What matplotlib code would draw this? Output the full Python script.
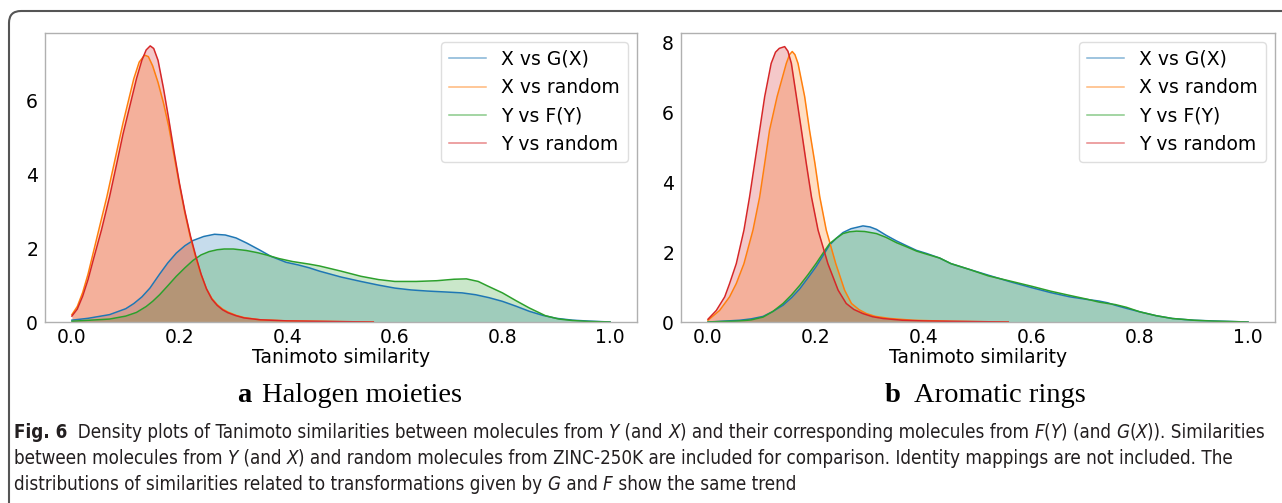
import re

import matplotlib
matplotlib.use("Agg")
import matplotlib.pyplot as plt
from matplotlib import font_manager
from matplotlib.font_manager import FontProperties
from matplotlib.patches import FancyBboxPatch
from matplotlib.transforms import IdentityTransform

W, H = 1282, 503

labels = ["X vs G(X)", "X vs random", "Y vs F(Y)", "Y vs random"]
colors = ["#1f77b4", "#ff7f0e", "#2ca02c", "#d62728"]

# ---- panel a: halogen moieties ----
a_xg_x = [0.0, 0.03, 0.07, 0.1, 0.115, 0.13, 0.145, 0.163, 0.178, 0.194, 0.21, 0.225, 0.245,
          0.265, 0.285, 0.305, 0.325, 0.348, 0.37, 0.398, 0.42, 0.441, 0.46, 0.5, 0.537, 0.57,
          0.6, 0.63, 0.66, 0.7, 0.725, 0.75, 0.775, 0.8, 0.825, 0.85, 0.875, 0.9, 0.93, 0.96, 1.0]
a_xg_y = [0.05, 0.1, 0.2, 0.36, 0.5, 0.68, 0.92, 1.3, 1.6, 1.87, 2.07, 2.21, 2.32,
          2.38, 2.36, 2.28, 2.14, 1.96, 1.78, 1.62, 1.55, 1.47, 1.38, 1.22, 1.1, 1.0,
          0.92, 0.87, 0.84, 0.81, 0.79, 0.74, 0.66, 0.56, 0.43, 0.29, 0.18, 0.1, 0.05, 0.025, 0.0]

a_xr_x = [0.0, 0.01, 0.02, 0.03, 0.04, 0.05, 0.065, 0.08, 0.095, 0.105, 0.115, 0.125, 0.135,
          0.142, 0.15, 0.16, 0.17, 0.18, 0.19, 0.2, 0.21, 0.22, 0.23, 0.24, 0.25, 0.26, 0.27,
          0.28, 0.29, 0.305, 0.32, 0.35, 0.4, 0.45, 0.5, 0.56]
a_xr_y = [0.2, 0.42, 0.8, 1.3, 1.9, 2.5, 3.4, 4.4, 5.4, 6.0, 6.6, 7.05, 7.24,
          7.2, 6.95, 6.5, 5.95, 5.3, 4.5, 3.7, 2.95, 2.3, 1.75, 1.28, 0.9, 0.64, 0.47,
          0.35, 0.27, 0.18, 0.12, 0.06, 0.03, 0.02, 0.01, 0.0]

a_yf_x = [0.0, 0.07, 0.1, 0.12, 0.138, 0.15, 0.163, 0.178, 0.194, 0.21, 0.225, 0.24, 0.255,
          0.27, 0.283, 0.3, 0.324, 0.345, 0.361, 0.385, 0.41, 0.441, 0.46, 0.5, 0.537, 0.57,
          0.6, 0.64, 0.678, 0.71, 0.733, 0.755, 0.772, 0.8, 0.825, 0.85, 0.88, 0.905, 0.93,
          0.96, 1.0]
a_yf_y = [0.02, 0.08, 0.16, 0.26, 0.42, 0.56, 0.74, 0.98, 1.24, 1.47, 1.67, 1.82, 1.91,
          1.96, 1.98, 1.98, 1.94, 1.88, 1.82, 1.72, 1.64, 1.57, 1.52, 1.38, 1.24, 1.15,
          1.1, 1.1, 1.12, 1.16, 1.17, 1.1, 0.98, 0.79, 0.58, 0.38, 0.17, 0.08, 0.04,
          0.015, 0.0]

a_yr_x = [0.0, 0.01, 0.02, 0.03, 0.04, 0.055, 0.07, 0.0835, 0.095, 0.11, 0.12, 0.13, 0.138,
          0.1455, 0.152, 0.16, 0.17, 0.18, 0.19, 0.2, 0.21, 0.22, 0.23, 0.24, 0.25, 0.26,
          0.27, 0.28, 0.29, 0.305, 0.32, 0.35, 0.4, 0.45, 0.5, 0.56]
a_yr_y = [0.16, 0.35, 0.7, 1.15, 1.7, 2.5, 3.4, 4.31, 5.1, 6.0, 6.6, 7.1, 7.38,
          7.49, 7.42, 7.1, 6.35, 5.5, 4.6, 3.75, 3.0, 2.35, 1.8, 1.3, 0.9, 0.62,
          0.45, 0.33, 0.25, 0.17, 0.11, 0.06, 0.03, 0.02, 0.01, 0.0]

# ---- panel b: aromatic rings ----
b_xg_x = [0.0, 0.0586, 0.08, 0.102, 0.12, 0.139, 0.155, 0.17, 0.185, 0.2, 0.213, 0.225, 0.238,
          0.25, 0.265, 0.287, 0.3, 0.312, 0.33, 0.349, 0.368, 0.386, 0.405, 0.429, 0.45, 0.485,
          0.519, 0.56, 0.6, 0.635, 0.67, 0.7, 0.724, 0.74, 0.754, 0.775, 0.8, 0.83, 0.86, 0.9,
          0.936, 1.0]
b_xg_y = [0.0, 0.05, 0.09, 0.16, 0.3, 0.48, 0.7, 0.95, 1.26, 1.58, 1.9, 2.2, 2.4,
          2.56, 2.67, 2.75, 2.72, 2.65, 2.48, 2.32, 2.18, 2.05, 1.96, 1.83, 1.67, 1.5,
          1.34, 1.15, 0.98, 0.84, 0.72, 0.65, 0.6, 0.55, 0.48, 0.39, 0.29, 0.18, 0.1, 0.05,
          0.03, 0.0]

b_xr_x = [0.0, 0.0215, 0.04, 0.0524, 0.0666, 0.0833, 0.0957, 0.105, 0.114, 0.128, 0.145, 0.151,
          0.156, 0.161, 0.1667, 0.179, 0.188, 0.198, 0.207, 0.219, 0.2366, 0.253, 0.2657, 0.28,
          0.2935, 0.31, 0.337, 0.38, 0.45, 0.5, 0.556]
b_xr_y = [0.05, 0.33, 0.72, 1.1, 1.67, 2.63, 3.58, 4.54, 5.49, 6.45, 7.4, 7.65,
          7.74, 7.65, 7.4, 6.45, 5.49, 4.54, 3.58, 2.63, 1.67, 0.91, 0.53, 0.35,
          0.24, 0.16, 0.1, 0.05, 0.02, 0.01, 0.0]

b_yf_x = [0.0, 0.0586, 0.08, 0.102, 0.12, 0.139, 0.155, 0.17, 0.185, 0.2, 0.213, 0.225, 0.238,
          0.25, 0.262, 0.275, 0.29, 0.312, 0.33, 0.349, 0.368, 0.386, 0.405, 0.429, 0.45, 0.485,
          0.519, 0.56, 0.6, 0.635, 0.67, 0.7, 0.724, 0.74, 0.754, 0.775, 0.8, 0.83, 0.86, 0.9,
          0.936, 1.0]
b_yf_y = [0.0, 0.03, 0.06, 0.14, 0.3, 0.53, 0.78, 1.05, 1.35, 1.67, 1.97, 2.24, 2.4,
          2.53, 2.58, 2.6, 2.59, 2.53, 2.42, 2.27, 2.15, 2.03, 1.94, 1.83, 1.67, 1.5,
          1.32, 1.17, 1.02, 0.88, 0.76, 0.66, 0.57, 0.53, 0.5, 0.42, 0.29, 0.18, 0.1, 0.05,
          0.025, 0.0]

b_yr_x = [0.0, 0.0154, 0.031, 0.04, 0.0524, 0.0666, 0.077, 0.0864, 0.0957, 0.105, 0.117, 0.125,
          0.132, 0.142, 0.148, 0.1544, 0.1637, 0.173, 0.182, 0.1916, 0.2038, 0.222, 0.241, 0.256,
          0.27, 0.287, 0.305, 0.324, 0.36, 0.4, 0.45, 0.5, 0.556]
b_yr_y = [0.08, 0.33, 0.72, 1.1, 1.67, 2.63, 3.58, 4.54, 5.49, 6.45, 7.4, 7.72,
          7.83, 7.88, 7.75, 7.4, 6.45, 5.49, 4.54, 3.58, 2.63, 1.67, 0.91, 0.53,
          0.36, 0.24, 0.15, 0.1, 0.05, 0.03, 0.02, 0.01, 0.0]

panel_a = [(a_xg_x, a_xg_y), (a_xr_x, a_xr_y), (a_yf_x, a_yf_y), (a_yr_x, a_yr_y)]
panel_b = [(b_xg_x, b_xg_y), (b_xr_x, b_xr_y), (b_yf_x, b_yf_y), (b_yr_x, b_yr_y)]

a_yticks = [0, 2, 4, 6]
b_yticks = [0, 2, 4, 6, 8]
xticks = [0.0, 0.2, 0.4, 0.6, 0.8, 1.0]

# *x* = italic, **x** = bold
caption_lines = [
    "**Fig. 6**  Density plots of Tanimoto similarities between molecules from *Y* (and *X*) "
    "and their corresponding molecules from *F*(*Y*) (and *G*(*X*)). Similarities",
    "between molecules from *Y* (and *X*) and random molecules from ZINC-250K are included for "
    "comparison. Identity mappings are not included. The",
    "distributions of similarities related to transformations given by *G* and *F* show the same trend",
]

plt.rcParams["font.family"] = "DejaVu Sans"


def wnum(w):
    return w if isinstance(w, int) else font_manager.weight_dict.get(w, 400)


# pick a narrow sans with a regular (non-bold) face for the caption
entries = font_manager.fontManager.ttflist
cap_family, cap_stretch, cap_weight = "Open Sans", "normal", "normal"
narrow = [f for f in entries if f.name == "Liberation Sans Narrow"]
dv_cond = [f for f in entries if f.name == "DejaVu Sans" and "Condensed" in f.fname
           and wnum(f.weight) < 500]
osc_light = [f for f in entries if f.name == "Open Sans Condensed" and wnum(f.weight) < 500]
if narrow:
    cap_family = "Liberation Sans Narrow"
elif dv_cond:
    cap_family, cap_stretch = "DejaVu Sans", dv_cond[0].stretch
elif osc_light:
    cap_family, cap_weight = "Open Sans Condensed", wnum(osc_light[0].weight)

fig = plt.figure(figsize=(W / 100, H / 100), dpi=100)


def px_axes(left, top, right, bottom):
    return fig.add_axes([left / W, 1 - bottom / H, (right - left) / W, (bottom - top) / H])


def draw_panel(ax, curves, ymax, yticks):
    for (x, y), lab, col in zip(curves, labels, colors):
        ax.plot(x, y, color=col, lw=1.1, label=lab)
        ax.fill_between(x, 0, y, color=col, alpha=0.25, lw=0)
    ax.set_xlim(-0.05, 1.05)
    ax.set_ylim(0, ymax)
    ax.set_xticks(xticks)
    ax.set_xticklabels([f"{t:.1f}" for t in xticks])
    ax.set_yticks(yticks)
    ax.tick_params(labelsize=13.5, length=0, pad=4)
    ax.tick_params(axis="y", pad=5)
    for sp in ax.spines.values():
        sp.set_color("#b0b0b0")
        sp.set_linewidth(1.0)
    ax.set_xlabel("Tanimoto similarity", fontsize=13.5, labelpad=1)
    leg = ax.legend(loc="upper right", fontsize=13.5, labelspacing=0.5,
                    handlelength=2.0, borderpad=0.4, edgecolor="#d6d6d6")
    for h in leg.get_lines():
        h.set_alpha(0.55)


ax_a = px_axes(45, 33, 637, 322)
draw_panel(ax_a, panel_a, 7.84, a_yticks)
ax_b = px_axes(681, 33, 1275, 322)
draw_panel(ax_b, panel_b, 8.27, b_yticks)

# sub captions
serif = "Liberation Serif"
for (bx, rx, letter, title) in [(237, 262, "a", "Halogen moieties"), (885, 914, "b", "Aromatic rings")]:
    fig.text(bx / W, 1 - 402 / H, letter, fontsize=20.5, fontweight="bold", family=serif,
             va="baseline")
    fig.text(rx / W, 1 - 402 / H, title, fontsize=20.5, family=serif, va="baseline")

# figure caption with mixed styles, sized so the first line fills the width
renderer = fig.canvas.get_renderer()


def cap_props(style, size):
    return FontProperties(family=cap_family, stretch=cap_stretch, size=size,
                          style="italic" if style == "i" else "normal",
                          weight="bold" if style == "b" else cap_weight)


def split_rich(s):
    out = []
    for part in re.split(r"(\*\*.+?\*\*|\*.+?\*)", s):
        if not part:
            continue
        if part.startswith("**"):
            out.append((part[2:-2], "b"))
        elif part.startswith("*"):
            out.append((part[1:-1], "i"))
        else:
            out.append((part, "r"))
    return out


def advance(s, prop):
    # bracket with bars so leading/trailing spaces count
    w1 = renderer.get_text_width_height_descent("|" + s + "|", prop, ismath=False)[0]
    w0 = renderer.get_text_width_height_descent("||", prop, ismath=False)[0]
    return w1 - w0


def line_width(s, size):
    return sum(advance(t, cap_props(st, size)) for t, st in split_rich(s))


size = 12 * 1254 / line_width(caption_lines[0], 12)
cap_y = [438, 464, 490]
for s, y in zip(caption_lines, cap_y):
    x = 14.0
    for t, st in split_rich(s):
        prop = cap_props(st, size)
        fig.text(x / W, 1 - y / H, t, fontproperties=prop, color="#231f20", va="baseline")
        x += advance(t, prop)

# rounded frame open to the right and bottom
frame = FancyBboxPatch((9, -30), 1400, H - 11 + 30, boxstyle="round,pad=0,rounding_size=12",
                       transform=IdentityTransform(), fill=False, edgecolor="#555555", lw=1.5)
fig.add_artist(frame)

fig.savefig("out.png", dpi=100)
